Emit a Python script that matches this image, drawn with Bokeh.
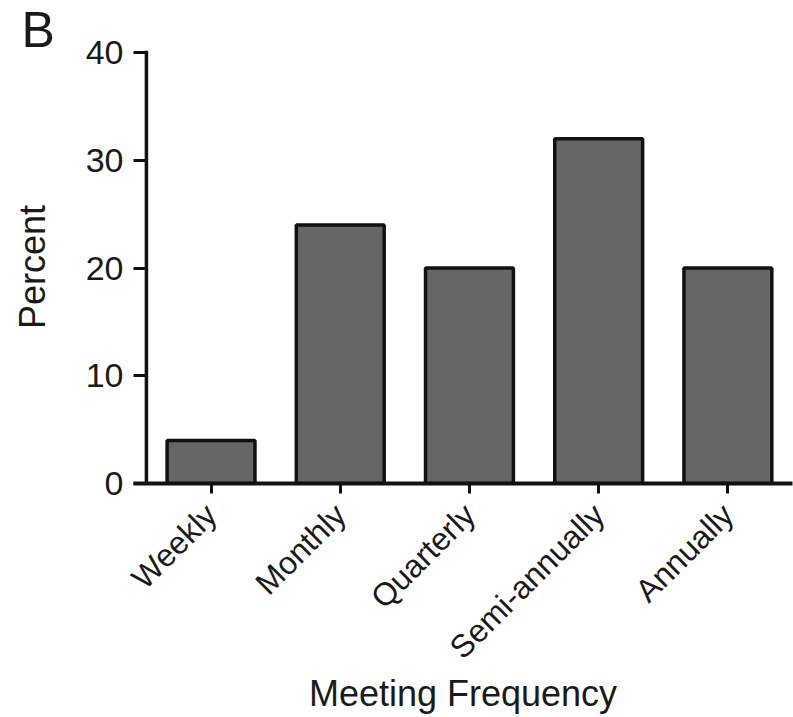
import math
from bokeh.plotting import figure
from bokeh.models import Range1d, FixedTicker, Span
from bokeh.embed import file_html
from bokeh.resources import INLINE

# ---- data ----
categories = ["Weekly", "Monthly", "Quarterly", "Semi-annually", "Annually"]
percent = [4, 24, 20, 32, 20]
y_ticks = [0, 10, 20, 30, 40]
panel_label = "B"
x_title = "Meeting Frequency"
y_title = "Percent"

FONT = "Liberation Sans"
TXT = "#1a1a1a"

positions = list(range(len(categories)))

p = figure(width=793, height=717, output_backend="svg", toolbar_location=None,
           x_range=Range1d(-0.6, len(categories) - 0.5),
           y_range=Range1d(0, 40.2),
           min_border_left=133, min_border_right=1,
           min_border_top=50, min_border_bottom=233)

p.outline_line_color = None
p.xgrid.grid_line_color = None
p.ygrid.grid_line_color = None
p.background_fill_color = "white"
p.border_fill_color = "white"

# panel letter as the title, pushed to the far left
p.title.text = panel_label
p.title.text_font = FONT
p.title.text_font_size = "50px"
p.title.text_font_style = "normal"
p.title.text_color = TXT
p.title.align = "left"
p.title.offset = -112
p.title.standoff = -15

p.vbar(x=positions, top=percent, width=0.68, bottom=0,
       fill_color="#666666", line_color="#111111", line_width=3.5)

# y axis line sits at the left edge of the first category slot
p.add_layout(Span(location=-0.5, dimension="height", line_color="#111111", line_width=3.5))

# x axis
xa = p.xaxis[0]
xa.ticker = FixedTicker(ticks=positions)
xa.major_label_overrides = {i: c for i, c in zip(positions, categories)}
xa.major_label_orientation = math.pi / 4
xa.axis_line_color = "#111111"
xa.axis_line_width = 4
xa.major_tick_line_color = "#111111"
xa.major_tick_line_width = 3
xa.major_tick_out = 10
xa.major_tick_in = 0
xa.minor_tick_line_color = None
xa.major_label_text_font = FONT
xa.major_label_text_font_size = "32px"
xa.major_label_text_color = TXT
xa.major_label_standoff = 16
xa.axis_label = x_title
xa.axis_label_text_font = FONT
xa.axis_label_text_font_size = "36px"
xa.axis_label_text_font_style = "normal"
xa.axis_label_text_color = TXT
xa.axis_label_standoff = -8

# y axis (ticks drawn inward from the frame edge up to the axis line)
ya = p.yaxis[0]
ya.ticker = FixedTicker(ticks=y_ticks)
ya.axis_line_color = None
ya.major_tick_line_color = "#111111"
ya.major_tick_line_width = 3
ya.major_tick_in = 14
ya.major_tick_out = 0
ya.minor_tick_line_color = None
ya.major_label_text_font = FONT
ya.major_label_text_font_size = "34px"
ya.major_label_text_color = TXT
ya.major_label_standoff = 10
ya.axis_label = y_title
ya.axis_label_text_font = FONT
ya.axis_label_text_font_size = "36px"
ya.axis_label_text_font_style = "normal"
ya.axis_label_text_color = TXT
ya.axis_label_standoff = 30

open("out.html", "w").write(file_html(p, INLINE))
